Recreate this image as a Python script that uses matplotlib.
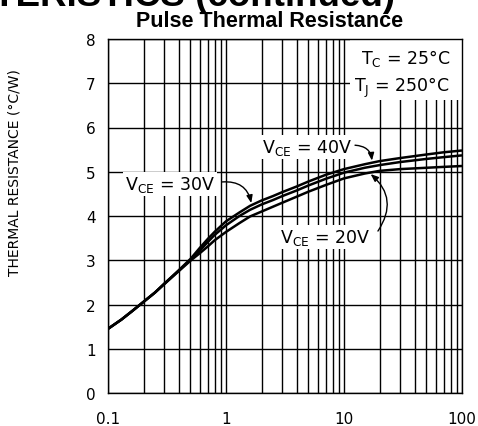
import numpy as np
import matplotlib
matplotlib.use("Agg")
import matplotlib.pyplot as plt
from matplotlib.ticker import LogLocator, NullFormatter, FixedLocator
from matplotlib.patches import Rectangle

# pulse width (log axis) and thermal resistance for each V_CE
pulse = [0.1, 0.13, 0.16, 0.2, 0.25, 0.3, 0.4, 0.5, 0.6, 0.7, 0.8, 1, 1.3, 1.6,
         2, 2.5, 3, 4, 5, 7, 10, 15, 20, 30, 50, 70, 100]
r_40v = [1.45, 1.66, 1.85, 2.06, 2.27, 2.47, 2.78, 3.03, 3.28, 3.48, 3.64, 3.88,
         4.08, 4.23, 4.35, 4.45, 4.54, 4.67, 4.78, 4.93, 5.06, 5.17, 5.24, 5.31,
         5.39, 5.44, 5.48]
r_30v = [1.45, 1.66, 1.85, 2.06, 2.27, 2.47, 2.77, 3.01, 3.22, 3.41, 3.57, 3.79,
         4.00, 4.14, 4.26, 4.36, 4.45, 4.58, 4.69, 4.84, 4.98, 5.09, 5.15, 5.22,
         5.29, 5.33, 5.37]
r_20v = [1.45, 1.66, 1.85, 2.06, 2.27, 2.46, 2.76, 2.99, 3.16, 3.31, 3.45, 3.64,
         3.84, 3.99, 4.10, 4.21, 4.30, 4.44, 4.55, 4.70, 4.85, 4.96, 5.02, 5.06,
         5.09, 5.11, 5.13]

x_ticks = [0.1, 1, 10, 100]
x_labels = ["0.1", "1", "10", "100"]
y_ticks = [0, 1, 2, 3, 4, 5, 6, 7, 8]

plt.rcParams["font.family"] = ["DejaVu Sans"]
plt.rcParams["mathtext.default"] = "regular"

fig = plt.figure(figsize=(4.78, 4.27), dpi=100)
ax = fig.add_axes([108 / 478, 1 - 394 / 427, 354 / 478, 354 / 427])

for r in (r_40v, r_30v, r_20v):
    ax.plot(pulse, r, color="black", lw=1.8, solid_capstyle="butt", zorder=4)

ax.set_xscale("log")
ax.set_xlim(0.1, 100)
ax.set_ylim(0, 8)
ax.xaxis.set_major_locator(FixedLocator(x_ticks))
ax.set_xticklabels(x_labels)
ax.xaxis.set_minor_locator(LogLocator(base=10, subs=np.arange(2, 10)))
ax.xaxis.set_minor_formatter(NullFormatter())
ax.set_yticks(y_ticks)
ax.tick_params(which="both", length=0, labelsize=11)
ax.tick_params(axis="x", pad=13)
ax.tick_params(axis="y", pad=9)
ax.set_axisbelow(True)
ax.grid(which="both", axis="x", color="black", lw=1.0)
ax.grid(which="major", axis="y", color="black", lw=1.0)
for s in ax.spines.values():
    s.set_linewidth(1.0)

# white block behind the temperature note
ax.add_patch(Rectangle((0.684, 0.828), 0.316, 0.172, transform=ax.transAxes,
                       facecolor="white", edgecolor="none", zorder=2))
ax.text(79, 7.59, "T$_C$ = 25°C", ha="right", va="center", fontsize=12.5, zorder=3)
ax.text(79, 6.92, "T$_J$ = 250°C", ha="right", va="center", fontsize=12.5, zorder=3)

box = dict(facecolor="white", edgecolor="none", pad=1.5)
ax.text(0.335, 4.72, "V$_{CE}$ = 30V", ha="center", va="center", fontsize=12.5,
        bbox=box, zorder=3)
ax.text(4.86, 5.56, "V$_{CE}$ = 40V", ha="center", va="center", fontsize=12.5,
        bbox=box, zorder=3)
ax.text(6.9, 3.53, "V$_{CE}$ = 20V", ha="center", va="center", fontsize=12.5,
        bbox=box, zorder=3)

lp = np.log10(pulse)


def on_curve(x, r):
    return np.interp(np.log10(x), lp, r)


arrow = dict(arrowstyle="-|>,head_length=0.45,head_width=0.18", color="black",
             lw=1.0, shrinkA=0, shrinkB=1.5)
ax.annotate("", xy=(1.65, on_curve(1.65, r_40v)), xytext=(0.93, 4.77),
            arrowprops=dict(arrow, connectionstyle="arc3,rad=-0.45"), zorder=5)
ax.annotate("", xy=(17.3, on_curve(17.3, r_40v)), xytext=(12.4, 5.6),
            arrowprops=dict(arrow, connectionstyle="arc3,rad=-0.45"), zorder=5)
ax.annotate("", xy=(16.3, on_curve(16.3, r_20v)), xytext=(19.4, 3.66),
            arrowprops=dict(arrow, connectionstyle="arc3,rad=0.45"), zorder=5)

fig.text(15 / 478, 1 - 173 / 427, "THERMAL RESISTANCE (°C/W)", rotation=90,
         ha="center", va="center", fontsize=10)

fig.text(270 / 478, 1 - 27 / 427, "Pulse Thermal Resistance", ha="center",
         va="baseline", fontsize=15.5, fontweight="bold", family="Liberation Sans")
fig.text(395 / 478, 1 - 5.5 / 427, "CHARACTERISTICS (continued)", ha="right",
         va="baseline", fontsize=26.5, fontweight="bold", family="Liberation Sans")

fig.savefig("out.png", dpi=100)
